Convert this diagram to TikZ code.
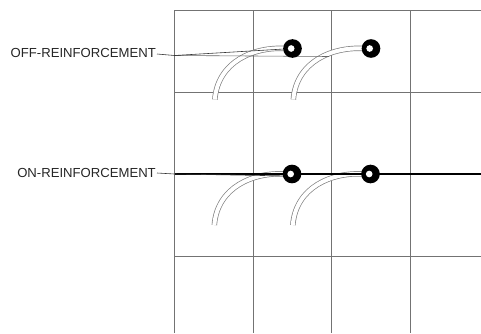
\documentclass[tikz,border=0pt]{standalone}
\usepackage{fontspec}
\setmainfont{Liberation Sans}
\usepackage{tikz}

\begin{document}
\begin{tikzpicture}[
    x = 0.03cm, y = -0.03cm,
    font = \fontsize{11.2}{13}\selectfont,
    %% ── styles ───────────────────────────────────────────────
    gridline/.style = {draw=black!55, line width=0.6pt},
    lbl/.style      = {anchor=east, inner sep=0pt, text=black!85},
    leader/.style   = {draw=black!80, line width=0.5pt},
    ring/.style     = {circle, fill=black, minimum size=0.56cm, inner sep=0pt,
                       path picture={\fill[white] ([xshift=-0.04cm]path picture bounding box.center)
                                     circle (0.1cm);}},
    tail/.style     = {draw=black!50, line width=0.6pt, double=white,
                       double distance=0.12cm},
    offbar/.style   = {draw=black!60, line width=0.5pt},
    onbar/.style    = {draw=black, line width=0.075cm}
]
\useasboundingbox (0,0) rectangle (481,333);

%% ── Grid ─────────────────────────────────────────────────────
\draw[gridline] (174.5,10) -- (174.5,333);
\draw[gridline] (253,10)   -- (253,333);
\draw[gridline] (331.5,10) -- (331.5,333);
\draw[gridline] (410,10)   -- (410,333);
\draw[gridline] (174.5,10)  -- (481,10);
\draw[gridline] (174.5,92)  -- (481,92);
\draw[gridline] (174.5,174) -- (481,174);
\draw[gridline] (174.5,256) -- (481,256);

%% ── Labels ───────────────────────────────────────────────────
\node[lbl] (offlbl) at (156,53)  {OFF-REINFORCEMENT};
\node[lbl] (onlbl)  at (156,173) {ON-REINFORCEMENT};

%% ── Tie points ───────────────────────────────────────────────
\coordinate (offA) at (292.5,48.5);
\coordinate (offB) at (371,48.5);
\coordinate (onA)  at (292,174);
\coordinate (onB)  at (370.5,174);

%% ── Tie tails ────────────────────────────────────────────────
\draw[tail] ([xshift=-0.2cm]offA) .. controls +(-32,-2) and +(3,-38) .. +(-71,51);
\draw[tail] ([xshift=-0.2cm]offB) .. controls +(-32,-2) and +(3,-38) .. +(-71,51);
\draw[tail] ([xshift=-0.2cm]onA)  .. controls +(-32,-2) and +(3,-38) .. +(-71,51);
\draw[tail] ([xshift=-0.2cm]onB)  .. controls +(-32,-2) and +(3,-38) .. +(-71,51);

%% ── Bars ─────────────────────────────────────────────────────
\coordinate (offS) at (174.5,55.5);
\coordinate (offE) at (329,56.5);
\coordinate (onS)  at (174.5,174);
\coordinate (onE)  at (481,174);
\draw[offbar] (offS) -- (offE);
\draw[onbar]  (onS)  -- (onE);

%% ── Leaders ──────────────────────────────────────────────────
\draw[leader] (offlbl.east) ++(1,1) -- (offS) -- (offA);
\draw[leader] (onlbl.east)  ++(1,0) -- (onS)  -- ([yshift=-0.06cm]onA);

%% ── Rings ────────────────────────────────────────────────────
\node[ring] (ringOffA) at (offA) {};
\node[ring] (ringOffB) at (offB) {};
\node[ring] (ringOnA)  at (onA)  {};
\node[ring] (ringOnB)  at (onB)  {};

\end{tikzpicture}
\end{document}
